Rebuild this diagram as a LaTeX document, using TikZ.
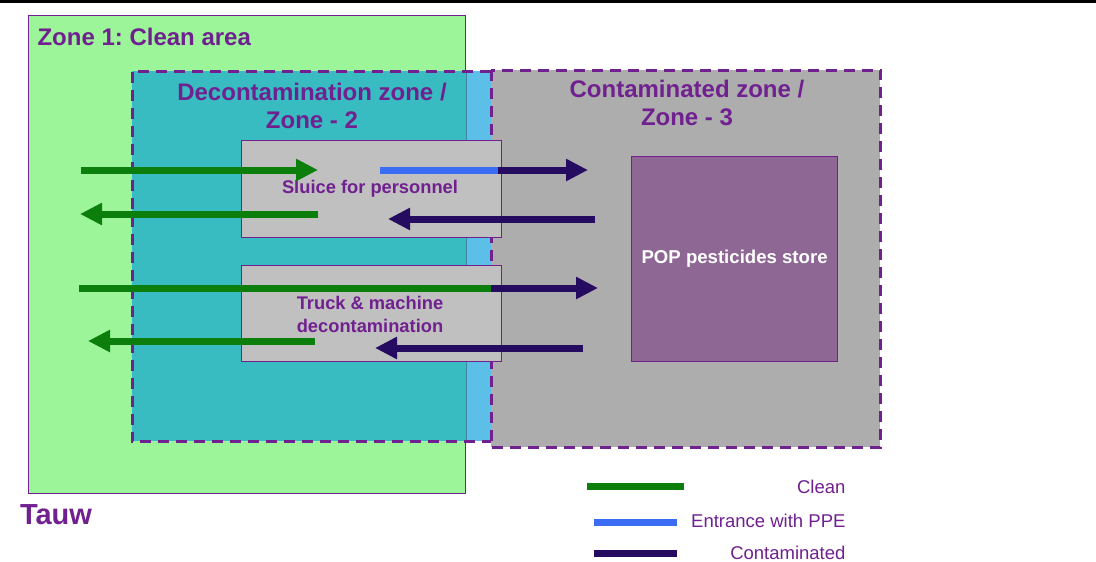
\documentclass[tikz,border=0pt]{standalone}
\usepackage{fontspec}
\setmainfont{Liberation Sans}
\usepackage{xcolor}
\usetikzlibrary{arrows.meta,positioning,calc}
\definecolor{zonepurple}{HTML}{70208F}
\definecolor{cleangreen}{HTML}{9DF59A}
\definecolor{deconteal}{HTML}{38BBC1}
\definecolor{deconblue}{HTML}{5BBFE7}
\definecolor{contgray}{HTML}{ADADAD}
\definecolor{boxgray}{HTML}{C0C0C0}
\definecolor{storepurple}{HTML}{8E6795}
\definecolor{flowgreen}{HTML}{0B7E0B}
\definecolor{flowblue}{HTML}{3B6CF4}
\definecolor{flownavy}{HTML}{260C60}
\frenchspacing
\tikzset{
    zone/.style={rectangle, anchor=north west, inner sep=0pt},
    zonetitle/.style={align=center, font=\bfseries\fontsize{24}{28}\selectfont, text=zonepurple},
    room/.style={rectangle, draw=zonepurple, line width=1.2pt, fill=boxgray, anchor=north west, inner sep=0pt, minimum width=260pt},
    roomlabel/.style={align=center, font=\bfseries\fontsize{18.3}{23}\selectfont, text=zonepurple},
    border/.style={zonepurple, line width=3pt, dash pattern=on 11pt off 7pt},
    flow/.style={line width=7pt, -{Triangle[length=22pt,width=21pt]}},
    keyline/.style={line width=7pt},
    keytext/.style={anchor=east, font=\fontsize{18.5}{22}\selectfont, text=zonepurple},
}

\begin{document}
\begin{tikzpicture}[x=1pt, y=-1pt]
    \useasboundingbox (0,0) rectangle (1096,562);
    \draw[line width=3pt] (0,1.5) -- (1096,1.5);

    % zones
    \node[zone, fill=cleangreen, draw=zonepurple, line width=1.2pt, minimum width=437pt, minimum height=478pt] (zone1) at (28,15) {};
    \node[zone, fill=deconblue, minimum width=359pt, minimum height=370pt] (zone2) at (132,71) {};
    \fill[deconteal] (zone2.north west) rectangle (zone2.south -| zone1.east);
    \draw[deconblue!70!black, thin] (zone1.east |- zone2.north) -- (zone1.east |- zone2.south);
    \node[zone, fill=contgray, minimum width=389pt, minimum height=377pt] (zone3) at (491,70) {};
    \draw[border] (zone2.north east) -- (zone2.north west) -- (zone2.south west) -- (zone2.south east);
    \draw[border] (zone3.north west) rectangle (zone3.south east);

    \node[anchor=west, font=\bfseries\fontsize{24}{28}\selectfont, text=zonepurple] (title1) at (34,37) {Zone 1: Clean area};
    \node[zonetitle] (title2) at (312,106) {Decontamination zone /\\Zone - 2};
    \node[zonetitle] (title3) at (687,103) {Contaminated zone /\\Zone - 3};

    % rooms
    \node[room, minimum height=97pt] (sluice) at (241,140) {};
    \node[room, minimum height=96pt] (truck) at (241,265) {};
    \node[zone, fill=storepurple, draw=zonepurple, line width=1.2pt, minimum width=206pt, minimum height=205pt] (store) at (631,156) {};
    \node[roomlabel] (sluicetext) at (370,189) {Sluice for personnel};
    \node[roomlabel] (trucktext) at (370,314) {Truck \& machine\\decontamination};
    \node[roomlabel, text=white, font=\bfseries\fontsize{18.6}{22}\selectfont] (storetext) at (store.center) {POP pesticides store};

    % routes
    \coordinate (in1a) at (81,170);
    \coordinate (in1b) at (318,170);
    \coordinate (ppea) at (380,170);
    \coordinate (ppeb) at (498,170);
    \coordinate (ppec) at (588,170);
    \coordinate (out1a) at (595,219);
    \coordinate (out1b) at (388,219);
    \coordinate (out1c) at (318,214);
    \coordinate (out1d) at (80,214);
    \coordinate (in2a) at (79,288);
    \coordinate (in2b) at (491,288);
    \coordinate (in2c) at (598,288);
    \coordinate (out2a) at (583,348);
    \coordinate (out2b) at (375,348);
    \coordinate (out2c) at (315,341);
    \coordinate (out2d) at (88,341);

    \draw[flow, flowgreen] (in1a) -- (in1b);
    \draw[keyline, flowblue] (ppea) -- (ppeb);
    \draw[flow, flownavy] (ppeb) -- (ppec);
    \draw[flow, flownavy] (out1a) -- (out1b);
    \draw[flow, flowgreen] (out1c) -- (out1d);
    \draw[keyline, flowgreen] (in2a) -- (in2b);
    \draw[flow, flownavy] (in2b) -- (in2c);
    \draw[flow, flownavy] (out2a) -- (out2b);
    \draw[flow, flowgreen] (out2c) -- (out2d);

    % legend
    \coordinate (key1a) at (587,486);
    \coordinate (key1b) at (684,486);
    \coordinate (key2a) at (594,522);
    \coordinate (key2b) at (677,522);
    \coordinate (key3a) at (594,553);
    \coordinate (key3b) at (677,553);
    \draw[keyline, flowgreen] (key1a) -- (key1b);
    \draw[keyline, flowblue] (key2a) -- (key2b);
    \draw[keyline, flownavy] (key3a) -- (key3b);
    \node[keytext] (key1) at (849,487) {Clean};
    \node[keytext] (key2) at (849,521) {Entrance with PPE};
    \node[keytext] (key3) at (849,553) {Contaminated};

    \node[font=\bfseries\fontsize{29}{32}\selectfont, text=zonepurple] (logo) at (56,515) {Tauw};
\end{tikzpicture}
\end{document}
